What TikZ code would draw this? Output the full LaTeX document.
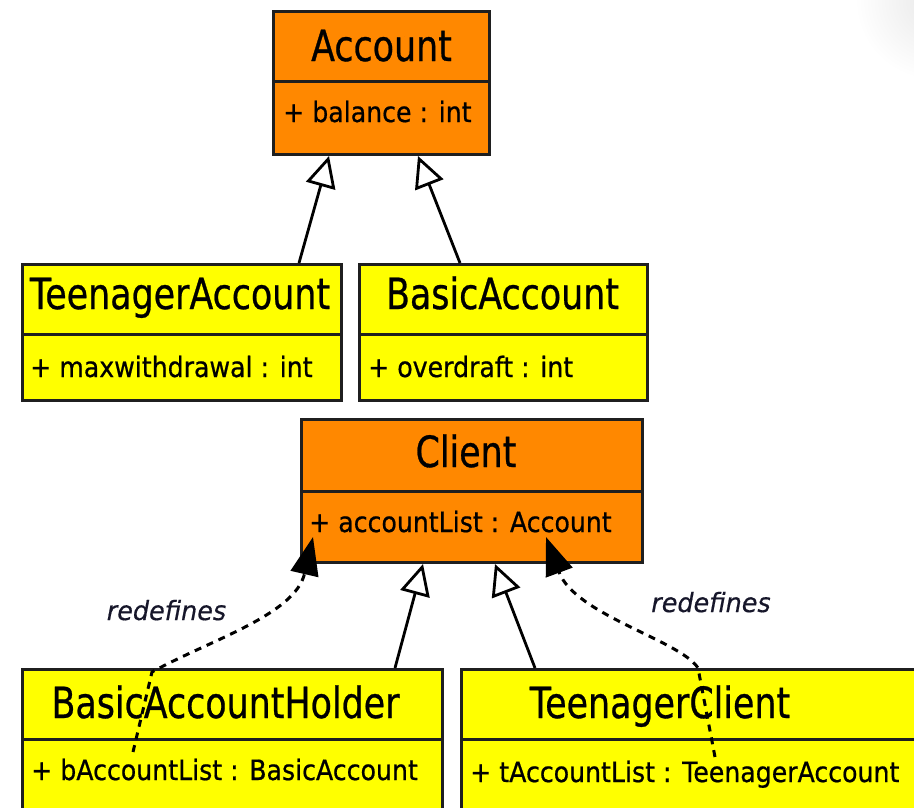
\documentclass[tikz,border=0pt]{standalone}
\usepackage{fontspec}
\setmainfont{DejaVu Sans}
\newfontfamily\heavyfont{DejaVu Sans}[FakeBold=0.7]
\newfontfamily\heavyobl{DejaVu Sans Oblique}[FakeBold=0.5]
\usepackage{graphicx}
\usetikzlibrary{arrows.meta}
\definecolor{umlorange}{HTML}{FF8800}
\definecolor{umlyellow}{HTML}{FFFF00}
\definecolor{lbl}{HTML}{16162A}
\newcommand\ttl[1]{{\heavyfont\fontsize{43}{43}\selectfont\scalebox{0.81}[1]{#1}}}
\newcommand\atr[1]{{\heavyfont\fontsize{28}{28}\selectfont\scalebox{0.9}[1]{#1}}}
\newcommand\rdf[1]{{\heavyobl\fontsize{26.5}{26.5}\selectfont\scalebox{0.96}[1]{#1}}}
\begin{document}
\begin{tikzpicture}[x=1pt,y=-1pt,
  box/.style={draw=black!88, line width=3pt, rectangle, inner sep=0pt, anchor=north west},
  txt/.style={inner sep=0pt, anchor=base},
  atxt/.style={inner sep=0pt, anchor=base west},
  inh/.style={line width=2.8pt, -{Triangle[open, length=31pt, width=30pt, fill=white]}},
  redef/.style={line width=3pt, dash pattern=on 7pt off 6pt, -{Triangle[length=38pt, width=28pt]}}
]
\useasboundingbox (0,0) rectangle (914,807);
\clip (0,0) rectangle (914,807);
\shade[inner color=black!9, outer color=white] (935,0) circle (80pt);

% Account
\node[box, fill=umlorange, minimum width=216pt, minimum height=70pt] (accH) at (272,10) {};
\node[box, fill=umlorange, minimum width=216pt, minimum height=73pt] (accA) at (272,80) {};
% TeenagerAccount
\node[box, fill=umlyellow, minimum width=319pt, minimum height=70pt] (taH) at (21,263) {};
\node[box, fill=umlyellow, minimum width=319pt, minimum height=66pt] (taA) at (21,333) {};
% BasicAccount
\node[box, fill=umlyellow, minimum width=288pt, minimum height=70pt] (baH) at (358,263) {};
\node[box, fill=umlyellow, minimum width=288pt, minimum height=66pt] (baA) at (358,333) {};
% Client
\node[box, fill=umlorange, minimum width=341pt, minimum height=72pt] (clH) at (300,418) {};
\node[box, fill=umlorange, minimum width=341pt, minimum height=71pt] (clA) at (300,490) {};
% BasicAccountHolder
\node[box, fill=umlyellow, minimum width=420pt, minimum height=70pt] (bahH) at (21,668) {};
\node[box, fill=umlyellow, minimum width=420pt, minimum height=90pt] (bahA) at (21,738) {};
% TeenagerClient
\node[box, fill=umlyellow, minimum width=470pt, minimum height=70pt] (tcH) at (460,668) {};
\node[box, fill=umlyellow, minimum width=470pt, minimum height=90pt] (tcA) at (460,738) {};

% texts
\node[txt] (t1) at (381.5,61) {\ttl{Account}};
\node[atxt] (a1) at (283,122) {\atr{+ balance : int}};
\node[txt] (t2) at (180,309) {\ttl{TeenagerAccount}};
\node[atxt] (a2) at (30,377) {\atr{+ maxwithdrawal : int}};
\node[txt] (t3) at (502.5,309) {\ttl{BasicAccount}};
\node[atxt] (a3) at (368,377) {\atr{+ overdraft : int}};
\node[txt] (t4) at (466,467) {\ttl{Client}};
\node[atxt] (a4) at (309,532) {\atr{+ accountList : Account}};
\node[txt] (t5) at (225.5,718) {\ttl{BasicAccountHolder}};
\node[atxt] (a5) at (31,780) {\atr{+ bAccountList : BasicAccount}};
\node[txt] (t6) at (660,718) {\ttl{TeenagerClient}};
\node[atxt] (a6) at (470,782) {\atr{+ tAccountList : TeenagerAccount}};

% inheritance
\draw[inh] ([shift={(278,0)}]taH.north west) -- ([shift={(57,0)}]accA.south west);
\draw[inh] ([shift={(102,0)}]baH.north west) -- ([shift={(146,0)}]accA.south west);
\draw[inh] ([shift={(374,0)}]bahH.north west) -- ([shift={(123,0)}]clA.south west);
\draw[inh] ([shift={(75,0)}]tcH.north west) -- ([shift={(195,0)}]clA.south west);

% redefines
\draw[redef] ([shift={(112,14)}]bahA.north west) -- (152,672) .. controls (210,640) and (295,615) .. ([shift={(13,47)}]clA.north west);
\draw[redef] ([shift={(255,19)}]tcA.north west) -- (698,668) .. controls (680,640) and (575,615) .. ([shift={(246,47)}]clA.north west);
\node[txt, text=lbl] (r1) at (166.5,620) {\rdf{redefines}};
\node[txt, text=lbl] (r2) at (711,612) {\rdf{redefines}};
\end{tikzpicture}
\end{document}
